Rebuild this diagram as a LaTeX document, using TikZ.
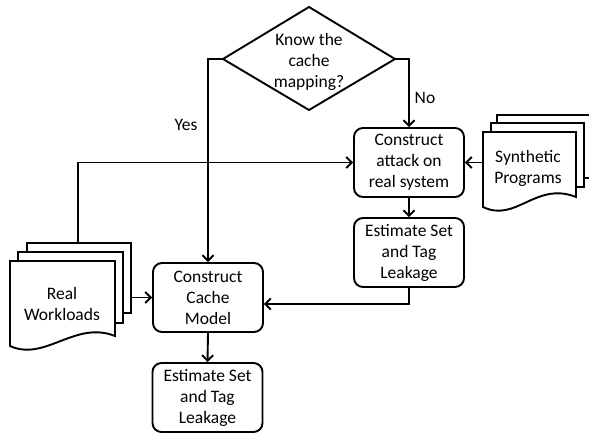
\documentclass[tikz,border=0pt]{standalone}
\usepackage{fontspec}
\setmainfont{Carlito}
\usetikzlibrary{arrows.meta}
\begin{document}
\begin{tikzpicture}[x=1pt,y=-1pt, line width=1.9pt,
  every node/.style={font=\fontsize{17.5}{21}\selectfont, align=center, inner sep=0pt},
  box/.style={draw, rounded corners=9pt, minimum width=110pt, minimum height=69pt},
  arr/.style={-{Straight Barb[length=5.5pt,width=11pt,line width=1.9pt]}},
  page/.style={draw, fill=white, line join=miter}]
\useasboundingbox (0,0) rectangle (589,434);
\clip (0,0) rectangle (589,434);
% decision diamond
\coordinate (qt) at (309,7);
\coordinate (qr) at (395,59);
\coordinate (qb) at (309,110);
\coordinate (ql) at (223,59);
\draw[line join=miter] (qt) -- (qr) -- (qb) -- (ql) -- cycle;
\node (q) at (309,62) {Know the\\cache\\mapping?};
% process boxes
\node[box] (attack) at (409,162.5) {Construct\\attack on\\real system};
\node[box] (est1) at (409,252.5) {Estimate Set\\and Tag\\Leakage};
\node[box] (model) at (208,297.5) {Construct\\Cache\\Model};
\node[box] (est2) at (207.5,397.5) {Estimate Set\\and Tag\\Leakage};
% Real Workloads document stack
\draw[page] (27,243) rectangle (131,313);
\draw[page] (18,252) rectangle (123,323);
\draw[page] (10,261) -- (115,261) -- (115,336) .. controls (75,320) and (45,362) .. (10,346) -- cycle;
\node (rw) at (62,304) {Real\\Workloads};
% Synthetic Programs document stack
\draw[page] (497,115) rectangle (600,178);
\draw[page] (491,123) rectangle (584,187);
\draw[page] (483,132) -- (576,132) -- (576,197) .. controls (536,181) and (516,223) .. (483,207) -- cycle;
\node (sp) at (528,168) {Synthetic\\Programs};
% connector anchors on the documents
\coordinate (rwtop) at (78,243);
\coordinate (rwright) at (131,297.5);
\coordinate (spleft) at (483,162.5);
% connectors
\draw[arr] (ql) -| (model.north);
\draw[arr] (qr) -| (attack.north);
\node (yes) at (186,125) {Yes};
\node (no) at (425,98) {No};
\draw[arr] (attack.south) -- (est1.north);
\draw[arr] (est1.south) |- ([yshift=-6.5pt]model.east);
\draw[arr] (model.south) -- (est2.north);
\draw[arr] (rwtop) |- (attack.west);
\draw[arr] (rwright) -- (model.west);
\draw[arr] (spleft) -- (attack.east);
\end{tikzpicture}
\end{document}
